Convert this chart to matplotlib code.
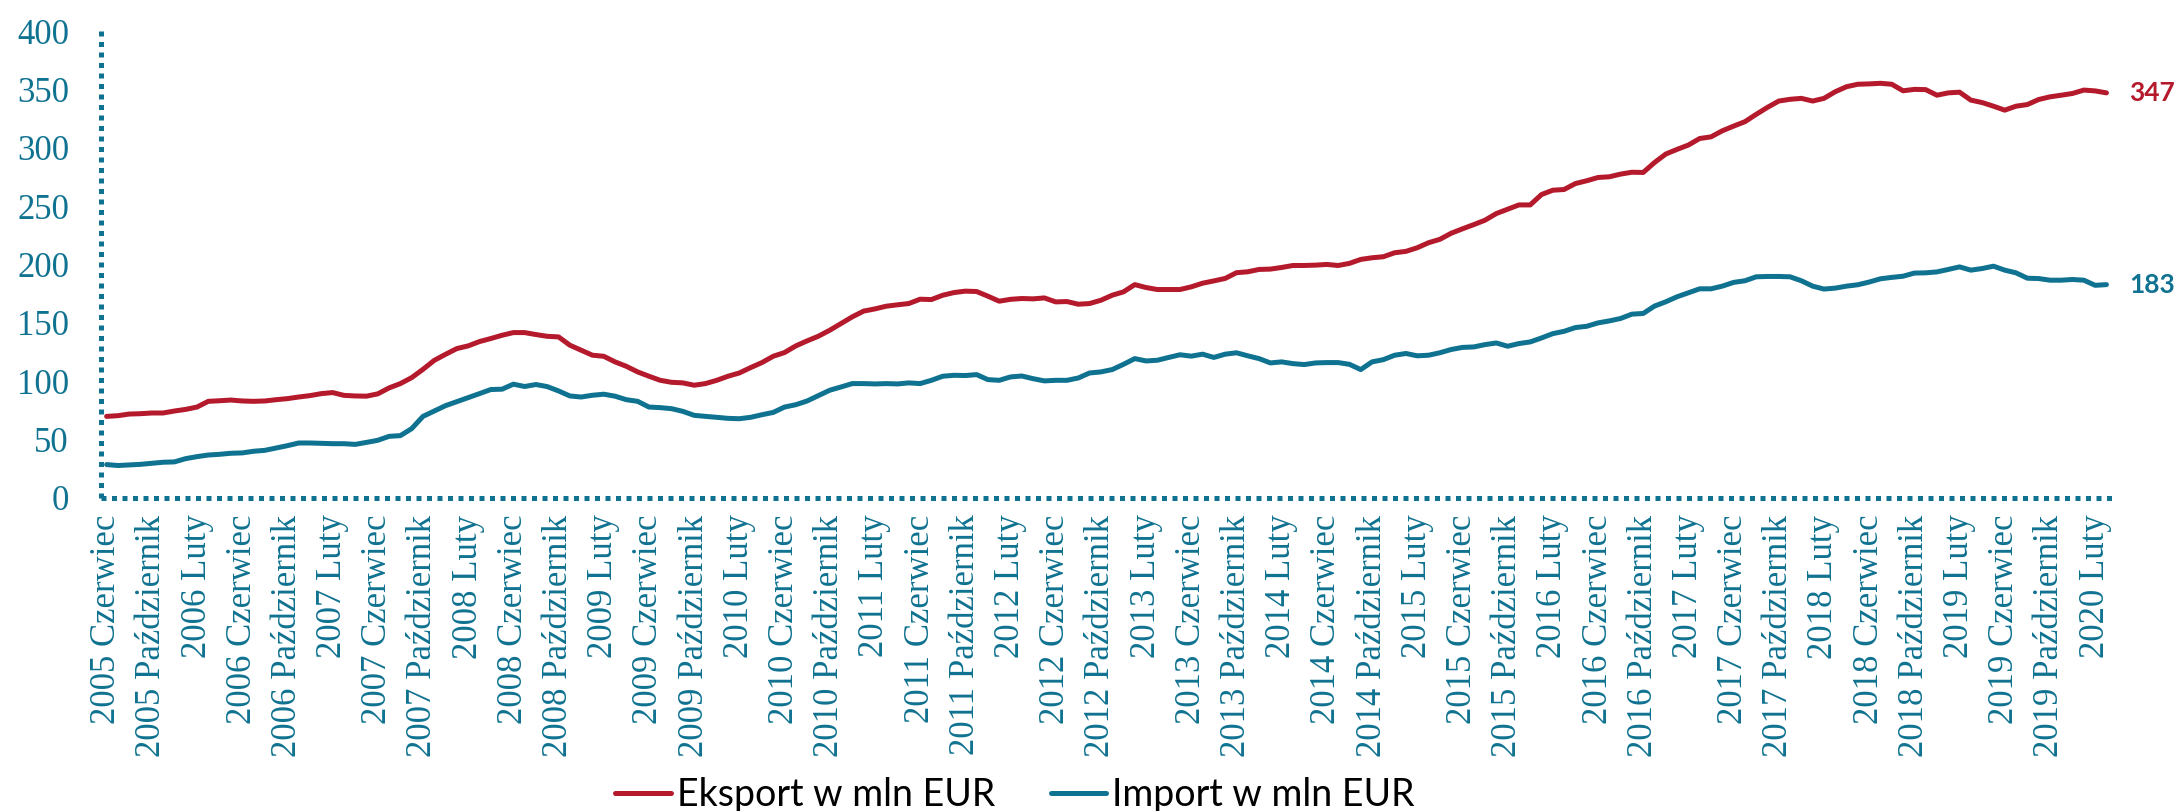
import matplotlib
matplotlib.use("Agg")
import matplotlib.pyplot as plt

# Monthly values, June 2005 - March 2020 (mln EUR)
eksport = [
    69.9, 70.5, 71.9, 72.2, 72.8, 72.8, 74.5, 75.9, 77.9, 82.8,
    83.3, 83.9, 83.1, 82.8, 83.1, 84.2, 85.1, 86.5, 87.7, 89.4,
    90.3, 87.9, 87.4, 87.2, 89.2, 94.3, 98.0, 103.1, 110.2, 117.9,
    123.1, 128.0, 130.3, 134.0, 136.6, 139.4, 141.7, 141.7, 140.0, 138.5,
    138.0, 130.9, 126.6, 122.3, 121.4, 116.6, 112.8, 108.0, 104.3, 100.8,
    99.1, 98.6, 96.6, 98.0, 100.8, 104.3, 107.1, 111.7, 116.0, 121.4,
    124.6, 130.3, 134.6, 138.6, 143.7, 149.4, 155.2, 160.1, 162.0, 164.3,
    165.5, 166.6, 170.3, 170.0, 173.7, 176.0, 177.2, 176.9, 172.9, 168.6,
    170.2, 170.9, 170.6, 171.4, 168.0, 168.3, 166.0, 166.6, 169.4, 173.7,
    176.6, 182.8, 180.3, 178.6, 178.6, 178.6, 180.9, 184.0, 186.0, 188.1,
    193.0, 193.8, 195.8, 196.1, 197.5, 199.2, 199.2, 199.5, 200.1, 199.2,
    201.0, 204.4, 205.8, 206.7, 210.1, 211.3, 214.4, 218.7, 221.6, 226.8,
    230.6, 234.2, 238.0, 243.7, 247.4, 251.1, 251.1, 260.0, 263.7, 264.3,
    269.4, 271.8, 274.6, 275.2, 277.5, 279.1, 278.9, 287.4, 294.7, 298.7,
    302.4, 308.0, 309.4, 314.6, 318.6, 322.4, 328.7, 334.7, 340.1, 341.6,
    342.4, 340.1, 342.4, 348.1, 352.4, 354.5, 354.8, 355.3, 354.5, 348.9,
    350.1, 349.9, 345.1, 347.1, 347.7, 340.9, 338.8, 335.7, 332.3, 335.7,
    337.1, 341.4, 343.7, 345.1, 346.6, 349.5, 348.8, 347.1,
]
import_ = [
    28.6, 27.8, 28.3, 28.8, 29.7, 30.6, 30.9, 33.7, 35.4, 36.8,
    37.4, 38.3, 38.6, 40.0, 40.8, 42.8, 44.8, 47.1, 47.1, 46.8,
    46.5, 46.5, 45.9, 47.6, 49.4, 52.8, 53.4, 59.4, 69.9, 74.5,
    79.1, 82.5, 85.9, 89.4, 92.9, 93.2, 97.5, 95.5, 97.2, 95.4,
    91.7, 87.4, 86.5, 88.0, 88.9, 87.2, 84.2, 82.8, 77.9, 77.4,
    76.5, 74.2, 70.8, 69.9, 69.1, 68.2, 67.9, 69.1, 71.3, 73.3,
    77.9, 79.9, 83.1, 87.7, 92.3, 95.1, 98.0, 98.0, 97.7, 98.0,
    97.7, 98.6, 98.0, 100.8, 104.3, 105.1, 104.9, 105.7, 101.4, 100.8,
    103.7, 104.5, 102.2, 100.3, 100.8, 100.8, 102.8, 107.1, 108.0, 110.0,
    114.5, 119.4, 117.4, 118.0, 120.4, 122.7, 121.5, 123.2, 120.4, 123.2,
    124.4, 121.8, 119.4, 115.7, 116.6, 115.1, 114.3, 115.7, 116.0, 116.0,
    114.5, 110.0, 116.6, 118.5, 122.3, 123.8, 121.8, 122.3, 124.4, 127.2,
    129.0, 129.4, 131.4, 132.8, 130.0, 132.3, 133.7, 137.1, 140.8, 142.8,
    146.0, 147.1, 150.0, 151.7, 153.8, 157.5, 158.1, 164.4, 168.1, 172.4,
    175.8, 179.2, 179.2, 181.5, 184.7, 186.1, 189.5, 189.8, 189.8, 189.5,
    186.1, 181.5, 179.0, 179.8, 181.5, 182.7, 185.0, 187.8, 189.0, 190.0,
    192.7, 192.9, 193.7, 195.8, 198.0, 195.2, 196.6, 198.6, 195.2, 192.9,
    188.3, 188.0, 186.6, 186.6, 187.2, 186.6, 182.2, 182.8,
]

# x tick labels every 4 months starting from June 2005
tick_months = ["Czerwiec", "Październik", "Luty"]
tick_labels = []
year, k = 2005, 0
for n in range(45):
    tick_labels.append(f"{year} {tick_months[k]}")
    k = (k + 1) % 3
    if k == 2:
        year += 1
tick_pos = list(range(0, 4 * len(tick_labels), 4))

red = "#B41A2C"
teal = "#0F7290"

fig = plt.figure(figsize=(21.81, 8.11), dpi=100)
ax = fig.add_axes([0.0463, 0.386, 0.9221, 0.5756])

x = range(len(eksport))
ax.plot(x, eksport, color=red, lw=3.6, solid_capstyle="round", solid_joinstyle="round",
        label="Eksport w mln EUR")
ax.plot(x, import_, color=teal, lw=3.6, solid_capstyle="round", solid_joinstyle="round",
        label="Import w mln EUR")

xmin, xmax = -0.5, len(eksport) - 0.5
ax.set_xlim(xmin, xmax)
ax.set_ylim(0, 400)
ax.set_yticks(range(0, 401, 50))
ax.set_xticks(tick_pos)
ax.set_xticklabels(tick_labels, rotation=90)

for lab in ax.get_xticklabels() + ax.get_yticklabels():
    lab.set_fontfamily("Liberation Serif")
    lab.set_fontsize(25)
    lab.set_color(teal)
ax.tick_params(axis="both", length=0)
ax.tick_params(axis="y", pad=23)
ax.tick_params(axis="x", pad=12)

# dotted axis lines instead of spines
for s in ax.spines.values():
    s.set_visible(False)
ax.plot([xmin, xmin], [0, 400], color=teal, lw=3.6, dashes=(1, 1.1),
        dash_capstyle="butt", clip_on=False)
ax.plot([xmin, xmax], [0, 0], color=teal, lw=3.6, dashes=(1, 1.1),
        dash_capstyle="butt", clip_on=False)

# end-of-series value labels
ax.annotate(f"{eksport[-1]:.0f}", xy=(len(eksport) - 1, eksport[-1]), xytext=(16.5, 0),
            textcoords="offset points", va="center", ha="left", color=red,
            fontsize=19, fontweight="bold", family="Lato", annotation_clip=False)
ax.annotate(f"{import_[-1]:.0f}", xy=(len(import_) - 1, import_[-1]), xytext=(16.5, 0),
            textcoords="offset points", va="center", ha="left", color=teal,
            fontsize=19, fontweight="bold", family="Lato", annotation_clip=False)

leg = fig.legend(ax.get_lines()[:2], ["Eksport w mln EUR", "Import w mln EUR"],
                 loc="center", bbox_to_anchor=(0.4654, 0.02), ncol=2, frameon=False,
                 prop={"family": "Lato", "size": 27}, handlelength=1.47,
                 handletextpad=0.16, columnspacing=1.5)
for h in leg.get_lines():
    h.set_linewidth(3.6)

fig.savefig("out.png", dpi=100)
